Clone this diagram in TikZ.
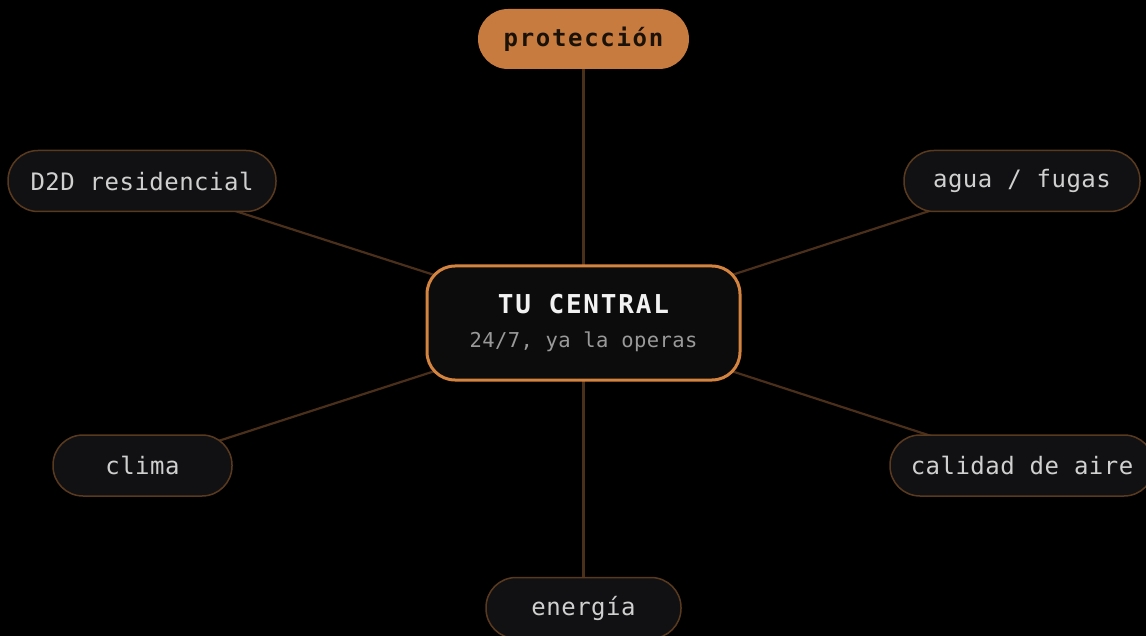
\documentclass[tikz,border=0pt]{standalone}
\usepackage{fontspec}
\setmonofont{DejaVu Sans Mono}
\newfontfamily\pillfont[LetterSpace=2]{DejaVu Sans Mono}
\newfontfamily\titlefont[LetterSpace=7]{DejaVu Sans Mono}
\newfontfamily\subfont[LetterSpace=2]{DejaVu Sans Mono}
\newfontfamily\topfont[LetterSpace=7]{DejaVu Sans Mono}
\usetikzlibrary{positioning,backgrounds}

\definecolor{bgblack}{HTML}{000000}
\definecolor{pillfill}{HTML}{111113}
\definecolor{pillline}{HTML}{5A3A1E}
\definecolor{spoke}{HTML}{4A2F1A}
\definecolor{hubline}{HTML}{D4843F}
\definecolor{hubfill}{HTML}{0C0C0C}
\definecolor{topfill}{HTML}{C87B3E}
\definecolor{toptext}{HTML}{1A1208}
\definecolor{pilltext}{HTML}{D0D0D0}
\definecolor{subtext}{HTML}{9A9A9A}

\tikzset{
  pill/.style={draw=pillline, line width=1.5pt, fill=pillfill, rounded corners=30pt,
    minimum height=61pt, inner sep=0pt, text=pilltext,
    font=\pillfont\fontsize{24}{28}\selectfont},
  spokeline/.style={draw=spoke, line width=2.2pt}
}

\begin{document}
\begin{tikzpicture}[x=1pt,y=-1pt]
	\useasboundingbox (0,0) rectangle (1146,636);

	\node [draw=hubline, line width=3pt, fill=hubfill, rounded corners=28pt,
	       minimum width=313pt, minimum height=114pt, inner sep=0pt, align=center,
	       text=subtext, font=\subfont\fontsize{20.5}{34}\selectfont]
	       (hub) at (583.5,323) {{\titlefont\bfseries\fontsize{26}{34}\selectfont\color{white!95!black}TU CENTRAL}\\24/7, ya la operas};

	\node [fill=topfill, rounded corners=30pt, minimum width=211pt, minimum height=60pt,
	       inner sep=0pt, text=toptext, font=\topfont\bfseries\fontsize{24}{28}\selectfont]
	       (prot) at (583.5,39) {protección};

	\node [pill, minimum width=268pt] (d2d) at (142,181) {D2D residencial};
	\node [pill, minimum width=236pt] (agua) at (1022,181) {agua / fugas};
	\node [pill, minimum width=179pt] (clima) at (142.5,465.5) {clima};
	\node [pill, minimum width=264pt] (aire) at (1022,465.5) {calidad de aire};
	\node [pill, minimum width=195pt] (energia) at (583.5,608) {energía};

	\begin{scope}[on background layer]
		\fill [bgblack] (0,0) rectangle (1146,636);
		\foreach \n in {prot,d2d,agua,clima,aire,energia}
			\draw [spokeline] (hub.center) -- (\n.center);
	\end{scope}
\end{tikzpicture}
\end{document}
